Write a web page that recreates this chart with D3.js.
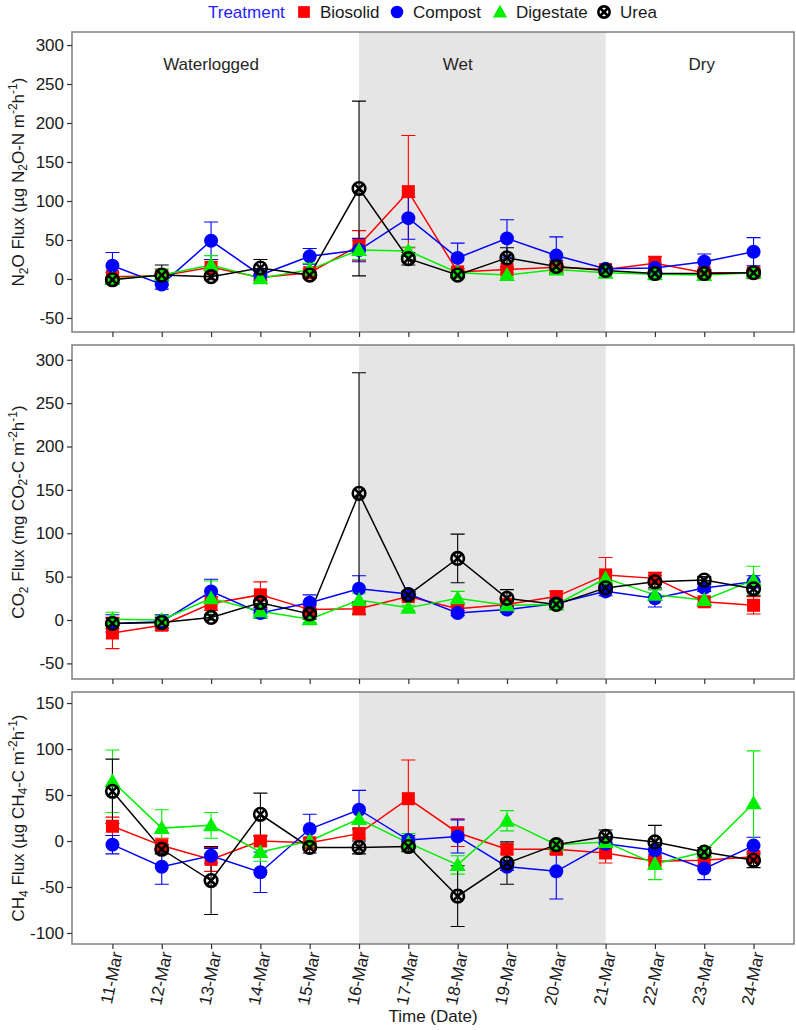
<!DOCTYPE html>
<html>
<head>
<meta charset="utf-8">
<script src="https://cdn.jsdelivr.net/npm/d3@7"></script>
<style>
body { margin: 0; background: #fff; }
text { font-family: "Liberation Sans", Arial, sans-serif; }
</style>
</head>
<body>
<svg id="chart" width="796" height="1030"></svg>
<script>
const dates = ["11-Mar", "12-Mar", "13-Mar", "14-Mar", "15-Mar", "16-Mar", "17-Mar",
	"18-Mar", "19-Mar", "20-Mar", "21-Mar", "22-Mar", "23-Mar", "24-Mar"]
const treatments = ["Biosolid", "Compost", "Digestate", "Urea"]
const colors = ["#ff0000", "#0000ff", "#00ee00", "#000000"]
const periods = ["Waterlogged", "Wet", "Dry"]

// N2O flux (mean, error)
const n2oBiosolid = [3, 4, 15, 2, 8, 43, 112, 9, 12, 15, 12, 20, 8, 8]
const n2oBiosolidErr = [5, 5, 10, 4, 5, 19, 72, 4, 4, 5, 3, 9, 4, 4]
const n2oCompost = [17, -7, 49, 5, 29, 37, 78, 27, 52, 30, 13, 14, 22, 35]
const n2oCompostErr = [17, 6, 24, 5, 10, 15, 27, 19, 24, 24, 3, 5, 10, 18]
const n2oDigestate = [0, 5, 18, 1, 12, 37, 36, 8, 5, 12, 8, 6, 5, 8]
const n2oDigestateErr = [3, 8, 12, 3, 8, 12, 5, 3, 3, 5, 2, 3, 3, 4]
const n2oUrea = [-1, 5, 3, 14, 5, 116, 26, 5, 27, 16, 11, 7, 7, 8]
const n2oUreaErr = [3, 13, 4, 11, 4, 112, 8, 3, 13, 8, 3, 4, 4, 6]

// CO2 flux
const co2Biosolid = [-15, -6, 19, 29, 12, 13, 27, 13, 18, 27, 52, 48, 21, 17]
const co2BiosolidErr = [18, 6, 8, 15, 5, 7, 4, 4, 3, 6, 20, 7, 5, 10]
const co2Compost = [-4, -2, 33, 8, 20, 36, 30, 8, 12, 19, 33, 25, 37, 44]
const co2CompostErr = [10, 8, 14, 6, 9, 15, 3, 3, 3, 4, 5, 10, 4, 7]
const co2Digestate = [1, 0, 25, 10, 1, 23, 14, 25, 17, 18, 48, 29, 23, 46]
const co2DigestateErr = [8, 5, 20, 8, 4, 8, 3, 8, 3, 3, 7, 6, 4, 16]
const co2Urea = [-4, -3, 3, 20, 7, 146, 29, 71, 25, 18, 37, 44, 46, 36]
const co2UreaErr = [6, 6, 3, 8, 6, 139, 4, 28, 10, 4, 5, 7, 4, 8]

// CH4 flux
const ch4Biosolid = [16, -5, -20, 0, -2, 8, 46, 9, -9, -9, -13, -22, -21, -17]
const ch4BiosolidErr = [10, 8, 13, 5, 5, 5, 42, 15, 5, 5, 11, 5, 5, 6]
const ch4Compost = [-4, -28, -16, -34, 13, 34, 1, 5, -28, -33, -3, -10, -30, -5]
const ch4CompostErr = [10, 19, 8, 22, 16, 21, 5, 18, 4, 30, 4, 5, 12, 9]
const ch4Digestate = [65, 14, 17, -12, 0, 24, -2, -26, 22, -4, -1, -25, -12, 41]
const ch4DigestateErr = [34, 20, 14, 10, 4, 10, 10, 10, 11, 4, 5, 17, 5, 57]
const ch4Urea = [54, -9, -43, 29, -7, -7, -6, -60, -24, -4, 5, -1, -12, -21]
const ch4UreaErr = [35, 5, 37, 23, 6, 7, 5, 33, 23, 4, 7, 18, 5, 8]

const n2oTicks = [-50, 0, 50, 100, 150, 200, 250, 300]
const co2Ticks = [-50, 0, 50, 100, 150, 200, 250, 300]
const ch4Ticks = [-100, -50, 0, 50, 100, 150]

const panels = [
	{
		top: 32, bottom: 332, domain: [-68, 316.7], ticks: n2oTicks,
		means: [n2oBiosolid, n2oCompost, n2oDigestate, n2oUrea],
		errs: [n2oBiosolidErr, n2oCompostErr, n2oDigestateErr, n2oUreaErr],
		title: [["N", ""], ["2", "sub"], ["O Flux (µg N", ""], ["2", "sub"], ["O-N m", ""], ["-2", "sup"], ["h", ""], ["-1", "sup"], [")", ""]],
		labels: true
	},
	{
		top: 345, bottom: 679, domain: [-68, 317], ticks: co2Ticks,
		means: [co2Biosolid, co2Compost, co2Digestate, co2Urea],
		errs: [co2BiosolidErr, co2CompostErr, co2DigestateErr, co2UreaErr],
		title: [["CO", ""], ["2", "sub"], [" Flux (mg CO", ""], ["2", "sub"], ["-C m", ""], ["-2", "sup"], ["h", ""], ["-1", "sup"], [")", ""]]
	},
	{
		top: 692, bottom: 944, domain: [-112, 162], ticks: ch4Ticks,
		means: [ch4Biosolid, ch4Compost, ch4Digestate, ch4Urea],
		errs: [ch4BiosolidErr, ch4CompostErr, ch4DigestateErr, ch4UreaErr],
		title: [["CH", ""], ["4", "sub"], [" Flux (µg CH", ""], ["4", "sub"], ["-C m", ""], ["-2", "sup"], ["h", ""], ["-1", "sup"], [")", ""]],
		xlabels: true
	}
]

const left = 72, right = 794
const svg = d3.select("#chart")

const x = d3.scaleLinear()
	.domain([-0.82, dates.length - 1 + 0.82])
	.range([left, right])

function drawShape(g, k, cx, cy, scale) {
	let s = scale || 1
	let c = colors[k]
	if (k == 0) {
		g.append("rect")
			.attr("x", cx - 6.5 * s).attr("y", cy - 6.5 * s)
			.attr("width", 13 * s).attr("height", 13 * s)
			.attr("fill", c)
	} else if (k == 1) {
		g.append("circle").attr("cx", cx).attr("cy", cy).attr("r", 7 * s).attr("fill", c)
	} else if (k == 2) {
		let h = 8 * s
		g.append("path")
			.attr("d", `M${cx},${cy - h}L${cx + h},${cy + h * 0.75}L${cx - h},${cy + h * 0.75}Z`)
			.attr("fill", c)
	} else {
		// open circle with a cross, drawn heavy
		let r = 6.3 * s
		g.append("circle").attr("cx", cx).attr("cy", cy).attr("r", r)
			.attr("fill", "none").attr("stroke", c).attr("stroke-width", 2.6)
		let d = r * 0.75
		g.append("path")
			.attr("d", `M${cx - d},${cy - d}L${cx + d},${cy + d}M${cx - d},${cy + d}L${cx + d},${cy - d}`)
			.attr("stroke", c).attr("stroke-width", 2.6)
	}
}

function addTitle(textSel, parts) {
	parts.forEach((p, i) => {
		let t = textSel.append("tspan").text(p[0])
		if (p[1] == "sub") {
			t.attr("font-size", "12px").attr("dy", "0.3em")
		} else if (p[1] == "sup") {
			t.attr("font-size", "12px").attr("dy", "-0.55em")
		} else if (i > 0) {
			let prev = parts[i - 1][1]
			if (prev == "sub") t.attr("dy", "-0.22em")
			if (prev == "sup") t.attr("dy", "0.4em")
		}
	})
}

panels.forEach(p => {
	let y = d3.scaleLinear().domain(p.domain).range([p.bottom, p.top])
	let g = svg.append("g")

	// shaded wet period
	g.append("rect")
		.attr("x", x(5)).attr("y", p.top)
		.attr("width", x(10) - x(5)).attr("height", p.bottom - p.top)
		.attr("fill", "#e5e5e5")

	if (p.labels) {
		periods.forEach((lab, i) => {
			let cx = [x(2), x(7), x(11.95)][i]
			g.append("text")
				.attr("x", cx).attr("y", 70)
				.attr("text-anchor", "middle")
				.attr("font-size", "17px")
				.attr("fill", "#262626")
				.text(lab)
		})
	}

	// error bars
	p.means.forEach((vals, k) => {
		let eg = g.append("g").attr("stroke", colors[k]).attr("stroke-width", 1.1).attr("fill", "none")
		vals.forEach((v, i) => {
			let e = p.errs[k][i]
			let cx = x(i)
			eg.append("path")
				.attr("d", `M${cx},${y(v - e)}V${y(v + e)}M${cx - 7},${y(v + e)}H${cx + 7}M${cx - 7},${y(v - e)}H${cx + 7}`)
		})
	})

	// lines
	p.means.forEach((vals, k) => {
		g.append("path")
			.datum(vals)
			.attr("fill", "none")
			.attr("stroke", colors[k])
			.attr("stroke-width", 1.5)
			.attr("d", d3.line().x((d, i) => x(i)).y(d => y(d)))
	})

	// points
	p.means.forEach((vals, k) => {
		let pg = g.append("g")
		vals.forEach((v, i) => drawShape(pg, k, x(i), y(v)))
	})

	// border
	g.append("rect")
		.attr("x", left).attr("y", p.top)
		.attr("width", right - left).attr("height", p.bottom - p.top)
		.attr("fill", "none").attr("stroke", "#7f7f7f").attr("stroke-width", 1.5)

	// y axis
	let yAxis = g.append("g")
		.attr("transform", `translate(${left},0)`)
		.call(d3.axisLeft(y).tickValues(p.ticks).tickSize(5).tickPadding(3).tickFormat(d => String(d)))
	yAxis.select(".domain").remove()
	yAxis.selectAll("line").attr("stroke", "#333").attr("stroke-width", 1.2)
	yAxis.selectAll("text").attr("font-size", "17px").attr("fill", "#1a1a1a")
		.style("font-family", '"Liberation Sans", Arial, sans-serif')

	// x axis
	let xAxis = g.append("g")
		.attr("transform", `translate(0,${p.bottom})`)
		.call(d3.axisBottom(x).tickValues(d3.range(dates.length)).tickSize(5).tickFormat(i => dates[i]))
	xAxis.select(".domain").remove()
	xAxis.selectAll("line").attr("stroke", "#333").attr("stroke-width", 1.2)
	if (p.xlabels) {
		xAxis.selectAll("text")
			.attr("font-size", "17px").attr("fill", "#1a1a1a")
			.style("font-family", '"Liberation Sans", Arial, sans-serif')
			.attr("text-anchor", "end")
			.attr("transform", "translate(4,8) rotate(-78)")
			.attr("x", 0).attr("y", 0).attr("dy", "0.35em")
	} else {
		xAxis.selectAll("text").remove()
	}

	// y title
	let mid = (p.top + p.bottom) / 2
	let t = g.append("text")
		.attr("transform", `translate(24,${mid}) rotate(-90)`)
		.attr("text-anchor", "middle")
		.attr("font-size", "17px")
		.attr("fill", "#1a1a1a")
	addTitle(t, p.title)
})

// x title
svg.append("text")
	.attr("x", (left + right) / 2).attr("y", 1022)
	.attr("text-anchor", "middle")
	.attr("font-size", "17px")
	.attr("fill", "#1a1a1a")
	.text("Time (Date)")

// legend
let lg = svg.append("g")
lg.append("text")
	.attr("x", 208).attr("y", 18)
	.attr("font-size", "17px")
	.attr("fill", "#1f1fff")
	.text("Treatment")
const legendX = [304, 397, 500, 604]
treatments.forEach((name, k) => {
	drawShape(lg, k, legendX[k], 12, 0.9)
	lg.append("text")
		.attr("x", legendX[k] + 16).attr("y", 18)
		.attr("font-size", "17px")
		.attr("fill", "#1a1a1a")
		.text(name)
})
</script>
</body>
</html>
